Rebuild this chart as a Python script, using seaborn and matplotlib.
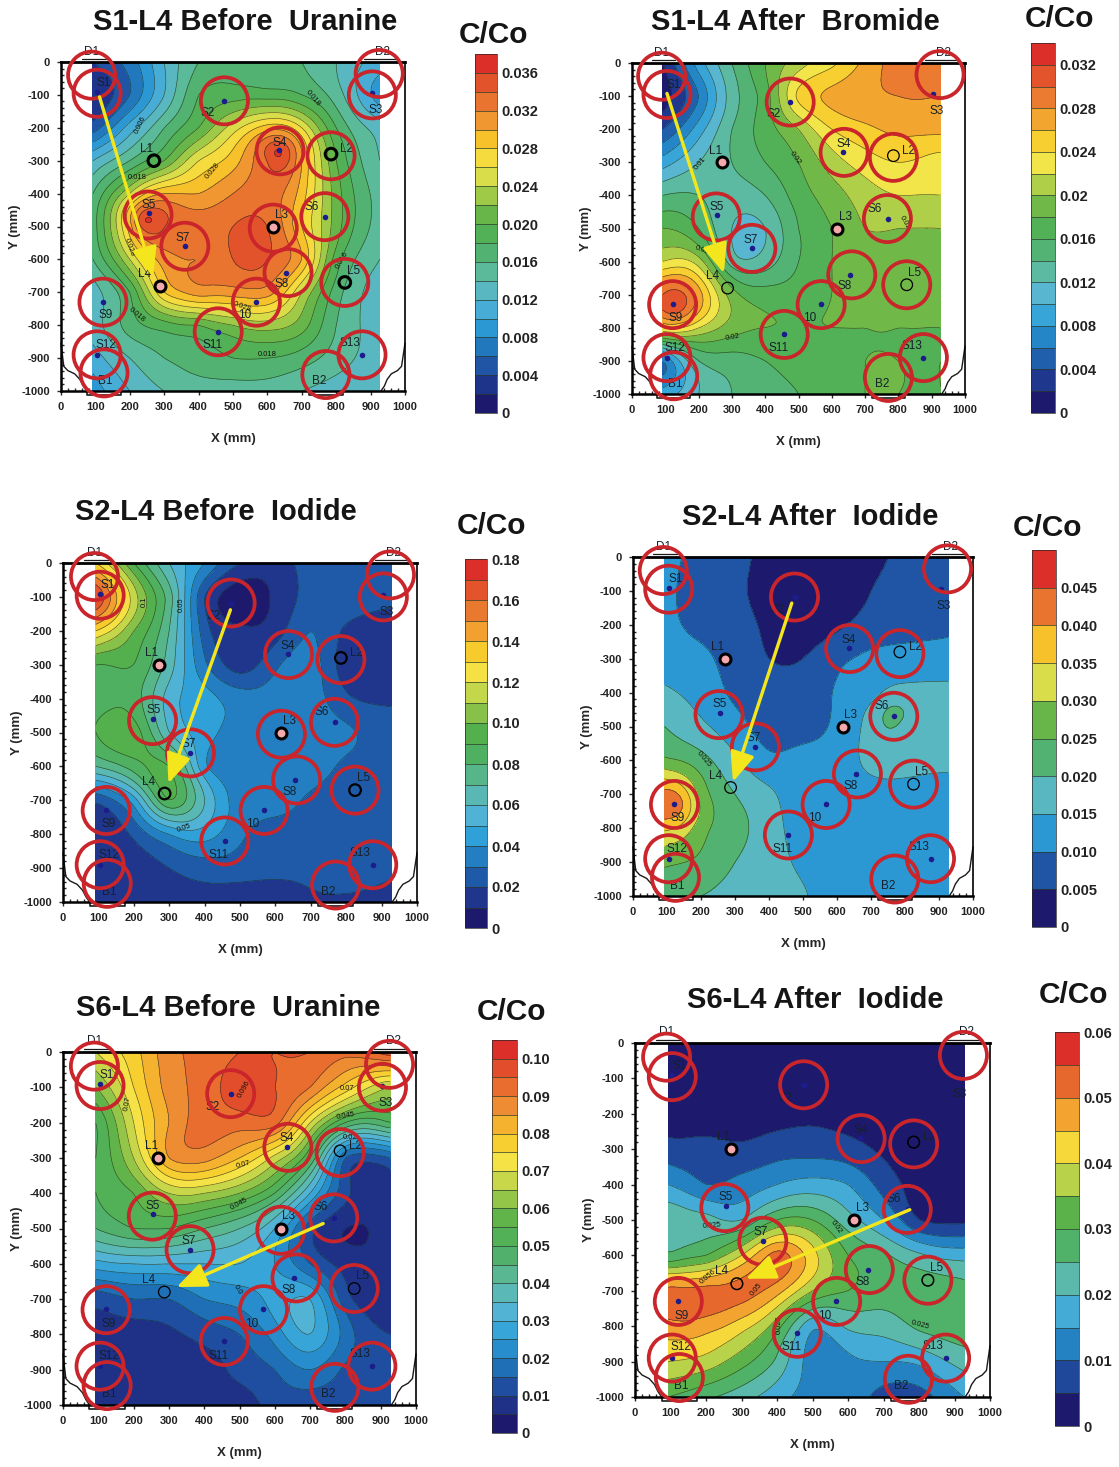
import numpy as np
import seaborn as sns
import matplotlib.pyplot as plt
from matplotlib.ticker import MultipleLocator

# sampling grid the C/Co values were read on (mm)
grid_x = [93, 200, 300, 400, 500, 600, 700, 800, 927]
grid_y = [0, -100, -200, -300, -400, -500, -600, -700, -800, -900, -1000]

s1_before = [
    [.004, .007, .012, .016, .017, .016, .016, .014, .011],
    [.002, .006, .012, .018, .019, .019, .018, .015, .009],
    [.005, .011, .016, .020, .025, .029, .026, .018, .013],
    [.012, .016, .020, .026, .029, .034, .030, .020, .014],
    [.016, .024, .030, .030, .032, .033, .029, .021, .015],
    [.017, .029, .034, .033, .034, .034, .028, .021, .015],
    [.016, .024, .031, .032, .034, .034, .030, .019, .014],
    [.013, .018, .028, .031, .031, .031, .024, .017, .013],
    [.013, .017, .019, .020, .022, .023, .021, .016, .013],
    [.011, .014, .016, .017, .018, .018, .017, .015, .013],
    [.009, .012, .014, .015, .015, .015, .014, .013, .012],
]
s1_after = [
    [.002, .009, .014, .018, .021, .0235, .0265, .029, .030],
    [.001, .006, .013, .017, .0245, .0265, .0275, .028, .028],
    [.004, .009, .014, .017, .020, .024, .0255, .0265, .0265],
    [.009, .012, .014, .016, .018, .021, .023, .024, .023],
    [.014, .014, .013, .014, .017, .019, .021, .022, .022],
    [.018, .016, .012, .012, .016, .018, .020, .020, .020],
    [.022, .021, .013, .013, .016, .018, .019, .019, .019],
    [.030, .027, .019, .017, .017, .018, .019, .019, .019],
    [.024, .022, .019, .018, .018, .018, .018, .018, .018],
    [.006, .014, .015, .016, .017, .017, .018, .018, .018],
    [.009, .012, .014, .015, .016, .017, .018, .018, .018],
]
s2_before = [
    [.13, .09, .06, .04, .02, .015, .025, .027, .025],
    [.17, .115, .075, .02, .004, .012, .024, .027, .022],
    [.13, .10, .07, .025, .012, .015, .03, .018, .015],
    [.09, .09, .065, .032, .015, .028, .035, .014, .012],
    [.085, .085, .055, .045, .035, .035, .035, .022, .018],
    [.09, .095, .06, .045, .035, .035, .035, .032, .025],
    [.07, .085, .09, .042, .035, .035, .035, .028, .025],
    [.022, .045, .09, .06, .035, .035, .028, .025, .025],
    [.015, .022, .04, .045, .032, .025, .025, .025, .025],
    [.015, .015, .02, .025, .025, .022, .022, .025, .022],
    [.014, .014, .014, .015, .013, .015, .018, .018, .015],
]
s2_after = [
    [.011, .009, .007, .003, .002, .003, .004, .006, .008],
    [.011, .008, .006, .003, .001, .002, .005, .007, .009],
    [.011, .009, .007, .004, .002, .004, .007, .008, .009],
    [.012, .011, .008, .005, .005, .009, .011, .012, .0125],
    [.016, .013, .009, .007, .007, .0105, .013, .0165, .016],
    [.020, .016, .012, .008, .008, .011, .017, .018, .017],
    [.026, .022, .016, .011, .012, .012, .0165, .017, .016],
    [.042, .028, .020, .016, .012, .012, .013, .013, .013],
    [.036, .027, .022, .017, .013, .012, .012, .012, .012],
    [.026, .024, .020, .017, .014, .012, .012, .012, .012],
    [.021, .020, .018, .017, .0155, .012, .012, .012, .012],
]
s6_before = [
    [.07, .078, .088, .092, .095, .095, .095, .092, .098],
    [.06, .075, .087, .092, .098, .095, .09, .078, .065],
    [.05, .07, .085, .092, .092, .092, .07, .05, .05],
    [.05, .065, .085, .087, .08, .068, .05, .015, .015],
    [.05, .055, .065, .065, .06, .05, .03, .012, .008],
    [.045, .05, .05, .045, .04, .03, .012, .005, .007],
    [.028, .03, .03, .03, .03, .025, .015, .008, .007],
    [.012, .015, .015, .02, .022, .027, .03, .012, .007],
    [.008, .008, .009, .012, .015, .022, .03, .018, .010],
    [.008, .008, .007, .007, .012, .015, .02, .014, .012],
    [.008, .008, .007, .007, .007, .012, .012, .012, .012],
]
s6_after = [
    [.002, .002, .002, .002, .002, .002, .002, .002, .002],
    [.002, .002, .002, .002, .002, .002, .002, .002, .004],
    [.002, .002, .002, .003, .004, .003, .002, .002, .004],
    [.007, .007, .006, .008, .008, .007, .004, .002, .002],
    [.015, .010, .012, .015, .017, .015, .008, .003, .002],
    [.024, .022, .020, .030, .030, .022, .015, .005, .004],
    [.026, .030, .040, .052, .042, .030, .026, .021, .018],
    [.052, .052, .052, .047, .035, .030, .027, .028, .027],
    [.048, .047, .042, .032, .016, .021, .022, .026, .028],
    [.040, .038, .032, .024, .013, .014, .015, .016, .022],
    [.030, .026, .022, .017, .013, .013, .008, .008, .015],
]

# sampling ports
sensor_names = ['S1', 'S2', 'S3', 'S4', 'S5', 'S6', 'S7', 'S8', 'S9', '10', 'S11', 'S12', 'S13']
sensor_x = [105, 475, 905, 635, 255, 768, 360, 655, 122, 567, 457, 105, 875]
sensor_y = [-90, -118, -95, -268, -460, -470, -560, -640, -728, -728, -820, -890, -890]
sensor_label_x = [125, 425, 915, 635, 255, 730, 355, 640, 130, 535, 440, 130, 840]
sensor_label_y = [-65, -155, -145, -245, -435, -440, -535, -675, -770, -770, -860, -860, -855]

# outlets and inlets
well_names = ['L1', 'L2', 'L3', 'L4', 'L5']
well_x = [270, 785, 617, 287, 825]
well_y = [-300, -280, -500, -680, -670]
well_label_x = [250, 830, 640, 243, 850]
well_label_y = [-265, -265, -465, -645, -635]

# red marked locations
circle_names = ['D1', 'S1', 'S2', 'S3', 'D2', 'S4', 'L2', 'S5', 'S6', 'L3', 'S7', 'S8', 'L5',
                'S9', 'S10', 'S11', 'S12', 'B1', 'B2', 'S13']
circle_x = [89, 105, 475, 905, 925, 637, 785, 253, 767, 617, 360, 660, 825,
            122, 568, 457, 105, 125, 770, 875]
circle_y = [-40, -95, -118, -100, -35, -270, -285, -465, -470, -505, -560, -640, -670,
            -730, -730, -820, -890, -945, -950, -890]

end_names = ['D1', 'D2', 'B1', 'B2']
end_x = [90, 935, 130, 750]
end_y = [30, 30, -970, -970]

cmap_keys = ['#1d1a6e', '#1f3f95', '#1f72b8', '#2d9fd9', '#58b6d4', '#5cba9d', '#4fb064',
             '#55b04a', '#a3cb48', '#f4e64a', '#f8c92a', '#ef8f33', '#e5602c', '#dc2f2a']

W, H = 1119, 1467
RED = '#c9252b'

sns.set_theme(style='white', font='Liberation Sans')
plt.rcParams['axes.unicode_minus'] = False


def thin_plate(px, py, pz, qx, qy):
    # thin plate surface through the read values, for smooth bands
    a = np.c_[px, py] / 1000.0
    q = np.c_[qx, qy] / 1000.0

    def kernel(p1, p2):
        d2 = ((p1[:, None, :] - p2[None, :, :]) ** 2).sum(axis=2)
        return 0.5 * d2 * np.log(d2 + 1e-12)

    n = len(a)
    P = np.c_[np.ones(n), a]
    A = np.block([[kernel(a, a) + 2e-4 * np.eye(n), P], [P.T, np.zeros((3, 3))]])
    w = np.linalg.solve(A, np.r_[pz, np.zeros(3)])
    return kernel(q, a) @ w[:n] + np.c_[np.ones(len(q)), q] @ w[n:]


def draw_panel(fig, z, box, cbox, title, title_xy, cbar_xy, step, top, cticks, clabels,
               arrow, pink, ring, line_labels, extras=()):
    l, r, t, b = box
    ax = fig.add_axes([l / W, 1 - b / H, (r - l) / W, (b - t) / H])

    xx, yy = np.meshgrid(grid_x, grid_y)
    px = np.r_[xx.ravel(), [e[0] for e in extras]]
    py = np.r_[yy.ravel(), [e[1] for e in extras]]
    pz = np.r_[np.array(z).ravel(), [e[2] for e in extras]]
    fx, fy = np.meshgrid(np.linspace(grid_x[0], grid_x[-1], 170), np.linspace(0, -1000, 200))
    fine_z = thin_plate(px, py, pz, fx.ravel(), fy.ravel()).reshape(fx.shape)
    levels = np.arange(0, top + step / 2, step)
    fine_z = np.clip(fine_z, levels[0] + 1e-6, levels[-1] - 1e-6)

    palette = sns.blend_palette(cmap_keys, n_colors=len(levels) - 1)
    cs = ax.contourf(fx, fy, fine_z, levels=levels, colors=palette)
    ax.contour(fx, fy, fine_z, levels=levels, colors='#1a2a1a', linewidths=0.45, alpha=0.75)

    for lx, ly, txt, rot in line_labels:
        ax.text(lx, ly, txt, fontsize=5.5, rotation=rot, ha='center', va='center', color='#111111')

    # sensors
    sns.scatterplot(x=sensor_x, y=sensor_y, color='#1c1c8c', s=16, linewidth=0, ax=ax, zorder=4, legend=False)
    for name, x, y in zip(sensor_names, sensor_label_x, sensor_label_y):
        ax.text(x, y, name, fontsize=8.5, ha='center', va='center', color='#15202a', zorder=5)
    for name, x, y in zip(end_names, end_x, end_y):
        ax.text(x, y, name, fontsize=8.5, ha='center', va='center', color='#15202a', zorder=5, clip_on=False)

    # wells, some filled pink
    for i, name in enumerate(well_names):
        heavy = name in pink
        sns.scatterplot(x=[well_x[i]], y=[well_y[i]], s=62 if heavy else 70,
                        facecolor='#f4a9ad' if heavy else 'none',
                        edgecolor='black', linewidth=2.2 if heavy else ring, ax=ax, zorder=6, legend=False)
        ax.text(well_label_x[i], well_label_y[i], name, fontsize=8.5, ha='center', va='center',
                color='#15202a', zorder=6)

    # red circles, S3 and L3 are not marked in the after runs
    skip = ['S3', 'L3'] if 'After' in title else []
    keep = [i for i, n in enumerate(circle_names) if n not in skip]
    sns.scatterplot(x=[circle_x[i] for i in keep], y=[circle_y[i] for i in keep], s=1150,
                    facecolor='none', edgecolor=RED, linewidth=2.7, ax=ax, zorder=7,
                    clip_on=False, legend=False)

    ax.annotate('', xy=arrow[1], xytext=arrow[0], zorder=8,
                arrowprops=dict(arrowstyle='-|>,head_length=1.8,head_width=0.75', color='#f4e61c',
                                lw=2.4, mutation_scale=10, shrinkA=0, shrinkB=0))

    # tank outline
    ax.plot([0, 8, 20, 40, 55, 65, 75], [-855, -925, -938, -948, -965, -985, -1000], color='k', lw=1, clip_on=False)
    ax.plot([1000, 990, 978, 960, 948, 940, 930], [-855, -925, -938, -948, -965, -985, -1000], color='k', lw=1, clip_on=False)
    for x0, x1 in [(60, 130), (880, 975)]:
        ax.plot([x0, x1], [8, 8], color='k', lw=0.9, clip_on=False)
    for x0, x1 in [(75, 175), (720, 820)]:
        ax.plot([x0, x0, x1, x1], [-1000, -1012, -1012, -1000], color='k', lw=1.2, clip_on=False)

    ax.set_xlim(0, 1000)
    ax.set_ylim(-1000, 0)
    ax.set_xticks(np.arange(0, 1001, 100))
    ax.set_yticks(np.arange(-1000, 1, 100))
    ax.xaxis.set_minor_locator(MultipleLocator(20))
    ax.yaxis.set_minor_locator(MultipleLocator(20))
    ax.tick_params(which='major', direction='out', length=3, width=1, labelsize=8, pad=5, bottom=True, left=True)
    ax.tick_params(which='minor', direction='in', length=2.5, width=1, bottom=True, left=True)
    plt.setp(ax.get_xticklabels() + ax.get_yticklabels(), fontweight='bold', color='#222222')
    for side, lw in [('left', 1.8), ('bottom', 1.8), ('top', 2), ('right', 1.2)]:
        ax.spines[side].set_visible(True)
        ax.spines[side].set_color('black')
        ax.spines[side].set_linewidth(lw)
    ax.set_xlabel('X (mm)', fontsize=9.5, fontweight='bold', labelpad=15)
    ax.set_ylabel('Y (mm)', fontsize=9.5, fontweight='bold', labelpad=0)

    cl, cr, ct, cb_ = cbox
    cax = fig.add_axes([cl / W, 1 - cb_ / H, (cr - cl) / W, (cb_ - ct) / H])
    cb = fig.colorbar(cs, cax=cax, ticks=cticks, drawedges=True)
    cb.ax.set_yticklabels(clabels, fontsize=10.5, fontweight='bold', color='#222222')
    cb.ax.tick_params(length=0, pad=3)
    cb.dividers.set_color('#2a3a2a')
    cb.dividers.set_linewidth(0.5)
    cb.outline.set_linewidth(0.5)

    fig.text(title_xy[0] / W, 1 - title_xy[1] / H, title, fontsize=21, fontweight='bold',
             ha='center', va='center', color='#151515')
    fig.text(cbar_xy[0] / W, 1 - cbar_xy[1] / H, 'C/Co', fontsize=21.5, fontweight='bold',
             ha='center', va='center', color='#151515')


def main():
    fig = plt.figure(figsize=(W / 100, H / 100), dpi=100)

    draw_panel(fig, s1_before, (61, 405, 62, 391), (475, 497, 54, 413), 'S1-L4 Before  Uranine', (245, 22), (494, 35),
               0.002, 0.038, np.arange(0, 0.037, 0.004),
               ['0', '0.004', '0.008', '0.012', '0.016', '0.020', '0.024', '0.028', '0.032', '0.036'],
               ((112, -106), (268, -653)), ['L3', 'L4'], 2.2,
               [(232, -190, '0.006', 65), (733, -111, '0.018', -50), (221, -350, '0.018', 0), (441, -330, '0.028', 50),
                (200, -562, '0.028', -70), (221, -770, '0.018', -40), (527, -743, '0.028', -20), (598, -889, '0.018', 0),
                (818, -603, '0.016', 60)],
               extras=[(240, -480, .036), (630, -275, .0365)])
    draw_panel(fig, s1_after, (632, 965, 63, 394), (1031, 1055, 43, 413), 'S1-L4 After  Bromide', (795, 22), (1060, 19),
               0.002, 0.034, np.arange(0, 0.033, 0.004),
               ['0', '0.004', '0.008', '0.012', '0.016', '0.02', '0.024', '0.028', '0.032'],
               ((105, -92), (276, -635)), ['L1', 'L3'], 0.9,
               [(204, -303, '0.01', 50), (491, -288, '0.02', -55), (210, -565, '0.02', -20), (301, -828, '0.02', 10),
                (818, -482, '0.02', -60)],
               extras=[(122, -728, .032)])
    draw_panel(fig, s2_before, (63, 417, 563, 902), (465, 487, 559, 928), 'S2-L4 Before  Iodide', (216, 512), (492, 526),
               0.01, 0.18, np.arange(0, 0.181, 0.02),
               ['0', '0.02', '0.04', '0.06', '0.08', '0.10', '0.12', '0.14', '0.16', '0.18'],
               ((473, -138), (298, -650)), ['L1', 'L3'], 1.6,
               [(229, -114, '0.1', 90), (334, -122, '0.05', 90), (342, -782, '0.05', 20)])
    draw_panel(fig, s2_after, (633, 973, 557, 896), (1032, 1056, 550, 927), 'S2-L4 After  Iodide', (810, 517), (1047, 528),
               0.005, 0.05, np.arange(0, 0.046, 0.005),
               ['0', '0.005', '0.010', '0.015', '0.020', '0.025', '0.030', '0.035', '0.040', '0.045'],
               ((467, -136), (294, -663)), ['L1', 'L3'], 0.9,
               [(208, -597, '0.025', -50)],
               extras=[(768, -470, .022), (122, -728, .044)])
    draw_panel(fig, s6_before, (63, 416, 1052, 1405), (492, 517, 1040, 1433), 'S6-L4 Before  Uranine', (228, 1008), (512, 1012),
               0.005, 0.105, np.arange(0, 0.101, 0.01),
               ['0', '0.01', '0.02', '0.03', '0.04', '0.05', '0.06', '0.07', '0.08', '0.09', '0.10'],
               ((737, -486), (322, -666)), ['L1', 'L3'], 0.9,
               [(182, -146, '0.07', 80), (512, -104, '0.096', 60), (806, -102, '0.07', 0), (800, -181, '0.045', 10),
                (512, -319, '0.07', 15), (499, -430, '0.045', 30), (813, -243, '0.02', 0), (494, -673, '0.0', -60)])
    draw_panel(fig, s6_after, (635, 990, 1043, 1397), (1055, 1079, 1032, 1426), 'S6-L4 After  Iodide', (815, 1000), (1073, 995),
               0.005, 0.06, np.arange(0, 0.061, 0.01),
               ['0', '0.01', '0.02', '0.03', '0.04', '0.05', '0.06'],
               ((774, -471), (312, -666)), ['L1', 'L3'], 1.1,
               [(218, -515, '0.025', 5), (568, -520, '0.02', -55), (206, -661, '0.056', 40), (342, -697, '0.05', 50),
                (804, -796, '0.025', -15), (405, -795, '0.025', 90)])

    fig.savefig('out.png', dpi=100)


if __name__ == '__main__':
    main()
